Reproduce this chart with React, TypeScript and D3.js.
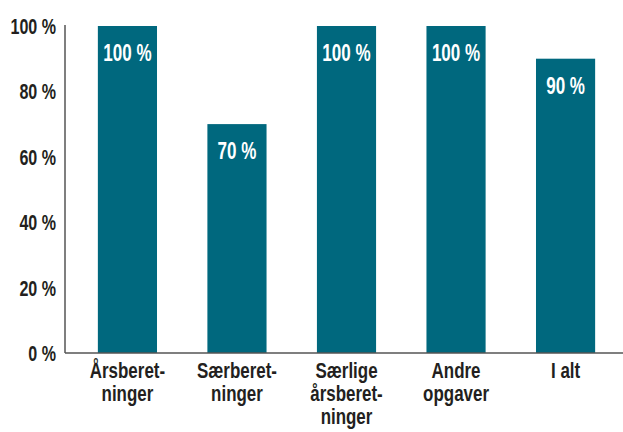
import * as d3 from "d3";

const categories = [
  ["Årsberet-", "ninger"],
  ["Særberet-", "ninger"],
  ["Særlige", "årsberet-", "ninger"],
  ["Andre", "opgaver"],
  ["I alt"],
];
const values = [100, 70, 100, 100, 90];
const yTicks = [0, 20, 40, 60, 80, 100];

const font = "'Liberation Sans', Arial, sans-serif";

// condensed look: squeeze normal bold text horizontally
function CondText({ x, y, anchor, size, sx, fill, children }: any) {
  return (
    <g transform={`translate(${x},${y}) scale(${sx},1)`}>
      <text textAnchor={anchor} fontSize={size} fill={fill} fontFamily={font} fontWeight="bold">
        {children}
      </text>
    </g>
  );
}

export default function App() {
  const width = 623;
  const height = 432;
  const axisX = 65;
  const baseY = 353;
  const topY = 26;

  const x = d3.scaleBand<number>()
    .domain(d3.range(values.length))
    .range([axisX, 628])
    .paddingInner(0.46)
    .paddingOuter(0.3);

  const y = d3.scaleLinear().domain([0, 100]).range([baseY, topY]);

  return (
    <svg width={width} height={height} style={{ position: "absolute", left: 0, top: 0, background: "#fff" }}>
      {values.map((v, i) => (
        <g key={i}>
          <rect x={x(i)} y={y(v)} width={x.bandwidth()} height={y(0) - y(v)} fill="#00687e" />
          <CondText x={x(i)! + x.bandwidth() / 2} y={y(v) + 35} anchor="middle" size={24} sx={0.71} fill="#fff">
            {v} %
          </CondText>
        </g>
      ))}
      {yTicks.map((t) => (
        <CondText key={t} x={56} y={y(t) + 8} anchor="end" size={22} sx={0.73} fill="#231f20">
          {t} %
        </CondText>
      ))}
      {categories.map((lines, i) =>
        lines.map((l, j) => (
          <CondText
            key={i + "-" + j}
            x={x(i)! + x.bandwidth() / 2}
            y={378 + j * 23}
            anchor="middle"
            size={22}
            sx={0.77}
            fill="#231f20"
          >
            {l}
          </CondText>
        ))
      )}
      <line x1={axisX} x2={axisX} y1={25} y2={baseY} stroke="#555" strokeWidth={1.5} />
      <line x1={axisX} x2={width} y1={baseY} y2={baseY} stroke="#555" strokeWidth={1.5} />
    </svg>
  );
}
